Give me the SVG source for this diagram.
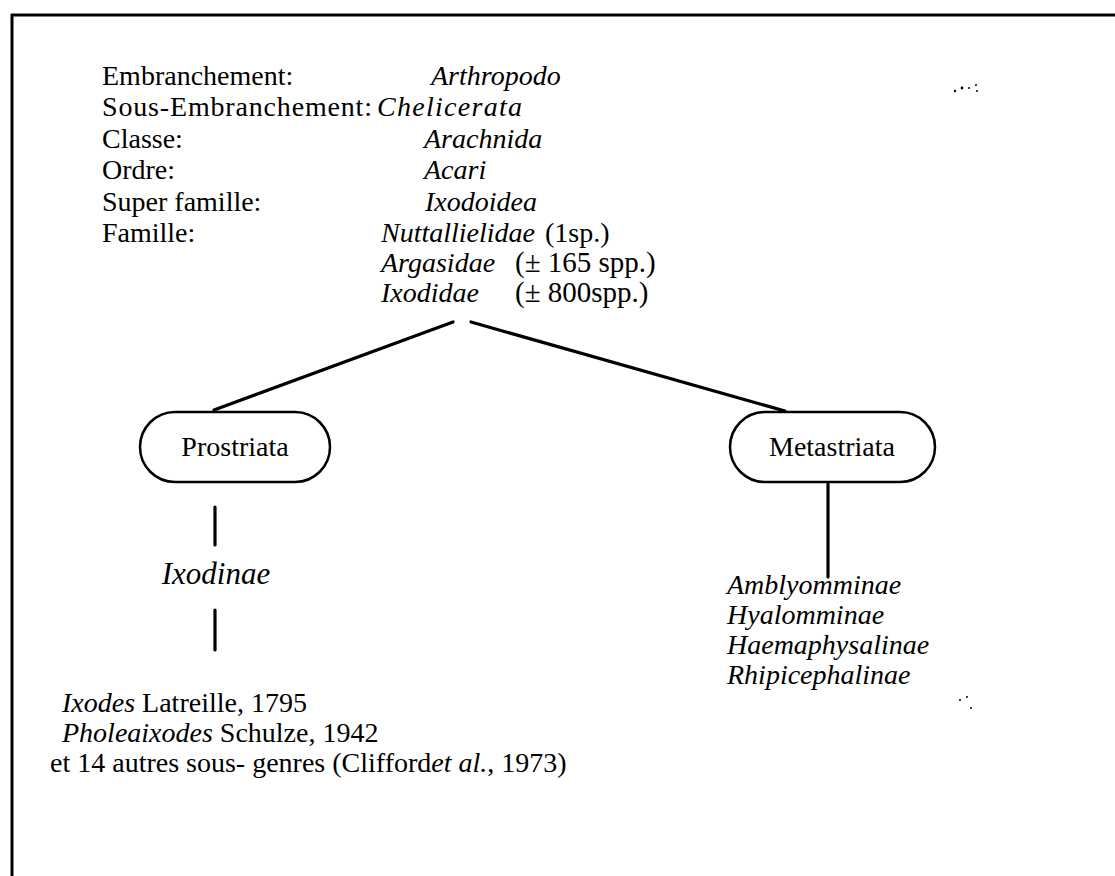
<svg xmlns="http://www.w3.org/2000/svg" width="1115" height="876" viewBox="0 0 1115 876">
<style>
text{font-family:"Liberation Serif","Times New Roman",serif;font-size:28px;fill:#000}
.i{font-style:italic}
.box{fill:#fff;stroke:#000;stroke-width:2.5}
.ln{stroke:#000;stroke-width:3.2;fill:none;stroke-linecap:round}
.frame{stroke:#000;stroke-width:3;fill:none}
.dot{fill:#000}
</style>
<rect width="1115" height="876" fill="#fff"/>
<g id="frame">
<line class="frame" x1="11" y1="15" x2="1115" y2="15"/>
<line class="frame" x1="12" y1="14" x2="12" y2="876"/>
</g>
<g id="classification">
<text x="102" y="85">Embranchement:</text>
<text x="431" y="85" class="i">Arthropodo</text>
<text x="102" y="116" textLength="270" lengthAdjust="spacing">Sous-Embranchement:</text>
<text x="377" y="116" class="i" textLength="145" lengthAdjust="spacing">Chelicerata</text>
<text x="102" y="148">Classe:</text>
<text x="424" y="148" class="i">Arachnida</text>
<text x="102" y="179">Ordre:</text>
<text x="424" y="179" class="i">Acari</text>
<text x="102" y="211">Super famille:</text>
<text x="425" y="211" class="i">Ixodoidea</text>
<text x="102" y="242">Famille:</text>
<text x="381" y="242" class="i">Nuttallielidae</text>
<text x="545" y="242">(1sp.)</text>
<text x="381" y="272" class="i">Argasidae</text>
<text x="515" y="272" style="font-size:29px">(± 165 spp.)</text>
<text x="381" y="302" class="i">Ixodidae</text>
<text x="515" y="302" style="font-size:29px">(± 800spp.)</text>
</g>
<g id="connectors">
<line class="ln" x1="453" y1="322" x2="214" y2="410"/>
<line class="ln" x1="471" y1="322" x2="785" y2="411"/>
<line class="ln" x1="215" y1="507" x2="215" y2="545"/>
<line class="ln" x1="215" y1="610" x2="215" y2="650"/>
<line class="ln" x1="828" y1="484" x2="828" y2="577"/>
</g>
<g id="prostriata">
<rect class="box" x="140" y="412" width="190" height="70" rx="35"/>
<text x="235" y="456" text-anchor="middle">Prostriata</text>
</g>
<g id="metastriata">
<rect class="box" x="730" y="412" width="205" height="70" rx="35"/>
<text x="832" y="456" text-anchor="middle">Metastriata</text>
</g>
<g id="ixodinae">
<text x="216" y="584" class="i" text-anchor="middle" style="font-size:31px">Ixodinae</text>
</g>
<g id="genera">
<text x="62" y="712"><tspan class="i">Ixodes</tspan> Latreille, 1795</text>
<text x="62" y="742"><tspan class="i">Pholeaixodes</tspan> Schulze, 1942</text>
<text x="50" y="772">et 14 autres sous- genres (Clifford<tspan class="i">et al.</tspan>,  1973)</text>
</g>
<g id="metastriata-subfamilies">
<text x="727" y="594" class="i">Amblyomminae</text>
<text x="727" y="624" class="i">Hyalomminae</text>
<text x="727" y="654" class="i">Haemaphysalinae</text>
<text x="727" y="684" class="i">Rhipicephalinae</text>
</g>
<g id="specks">
<circle class="dot" cx="955" cy="91" r="1.2"/>
<circle class="dot" cx="962" cy="88" r="1.4"/>
<circle class="dot" cx="969" cy="88" r="1"/>
<circle class="dot" cx="976" cy="85" r="1"/>
<circle class="dot" cx="977" cy="91" r="1"/>
<circle class="dot" cx="960" cy="700" r="1"/>
<circle class="dot" cx="967" cy="697" r="1"/>
<circle class="dot" cx="971" cy="708" r="1"/>
</g>
</svg>
